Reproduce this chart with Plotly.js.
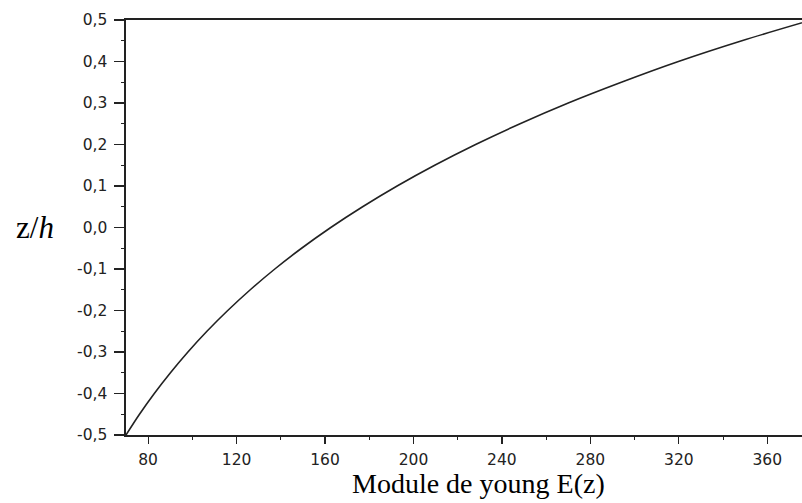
<!DOCTYPE html>
<html>
<head>
<meta charset="utf-8">
<script src="https://cdn.plot.ly/plotly-3.0.1.min.js"></script>
<style>html,body{margin:0;padding:0;background:#fff;overflow:hidden}</style>
</head>
<body>
<div id="chart" style="width:802px;height:503px"></div>
<script>
// thickness coordinate z/h
const zOverH = [-0.5, -0.45, -0.4, -0.35, -0.3, -0.25, -0.2, -0.15, -0.1, -0.05, 0.0, 0.05, 0.1, 0.15, 0.2, 0.25, 0.3, 0.35, 0.4, 0.45, 0.5];
// Young's modulus E(z)
const modulusE = [70, 76.1, 82.8, 90.1, 98.0, 106.6, 116.0, 126.2, 137.3, 149.4, 162.6, 177.0, 192.6, 209.6, 228.1, 248.2, 270.0, 294.0, 319.8, 348.5, 380.0];

const xTickVals = [80, 120, 160, 200, 240, 280, 320, 360];
const yTickVals = [-0.5, -0.4, -0.3, -0.2, -0.1, 0, 0.1, 0.2, 0.3, 0.4, 0.5];
const yTickLabels = ['-0,5', '-0,4', '-0,3', '-0,2', '-0,1', '0,0', '0,1', '0,2', '0,3', '0,4', '0,5'];

const axisColor = '#222';
const tickFont = {family: 'DejaVu Sans, sans-serif', size: 15.5, color: '#222'};

const trace = {
  x: modulusE, y: zOverH, type: 'scatter', mode: 'lines',
  line: {color: '#222', width: 1.6, shape: 'spline', smoothing: 1},
  hoverinfo: 'skip'
};

const layout = {
  width: 802, height: 503,
  margin: {l: 126, r: 0, t: 20, b: 68},
  paper_bgcolor: '#fff', plot_bgcolor: '#fff',
  showlegend: false,
  xaxis: {
    range: [70, 375.7], showgrid: false, zeroline: false,
    showline: true, linecolor: axisColor, linewidth: 1.6, mirror: true,
    ticks: 'outside', ticklen: 7, tickwidth: 1.2, tickcolor: axisColor,
    tickvals: xTickVals, ticktext: xTickVals.map(String),
    tickfont: tickFont, ticklabelstandoff: 3,
    minor: {ticks: 'outside', ticklen: 3, tickwidth: 1, tickcolor: axisColor, dtick: 20, tick0: 60}
  },
  yaxis: {
    range: [-0.5, 0.5], showgrid: false, zeroline: false,
    showline: true, linecolor: axisColor, linewidth: 1.6,
    ticks: 'outside', ticklen: 10, tickwidth: 1.2, tickcolor: axisColor,
    tickvals: yTickVals, ticktext: yTickLabels,
    tickfont: tickFont, ticklabelstandoff: 4,
    minor: {ticks: 'outside', ticklen: 3, tickwidth: 1, tickcolor: axisColor, dtick: 0.05, tick0: 0}
  },
  annotations: [
    {xref: 'paper', yref: 'paper', x: 0.521, y: -0.118, xanchor: 'center', yanchor: 'middle',
     text: 'Module de young E(z)', showarrow: false,
     font: {family: 'Liberation Serif, Times New Roman, serif', size: 28, color: '#000'}},
    {xref: 'paper', yref: 'paper', x: -0.1346, y: 0.499, xanchor: 'center', yanchor: 'middle',
     text: 'z/<i>h</i>', showarrow: false,
     font: {family: 'Liberation Serif, Times New Roman, serif', size: 31, color: '#000'}}
  ]
};

Plotly.newPlot('chart', [trace], layout, {staticPlot: true, displayModeBar: false});
</script>
</body>
</html>
